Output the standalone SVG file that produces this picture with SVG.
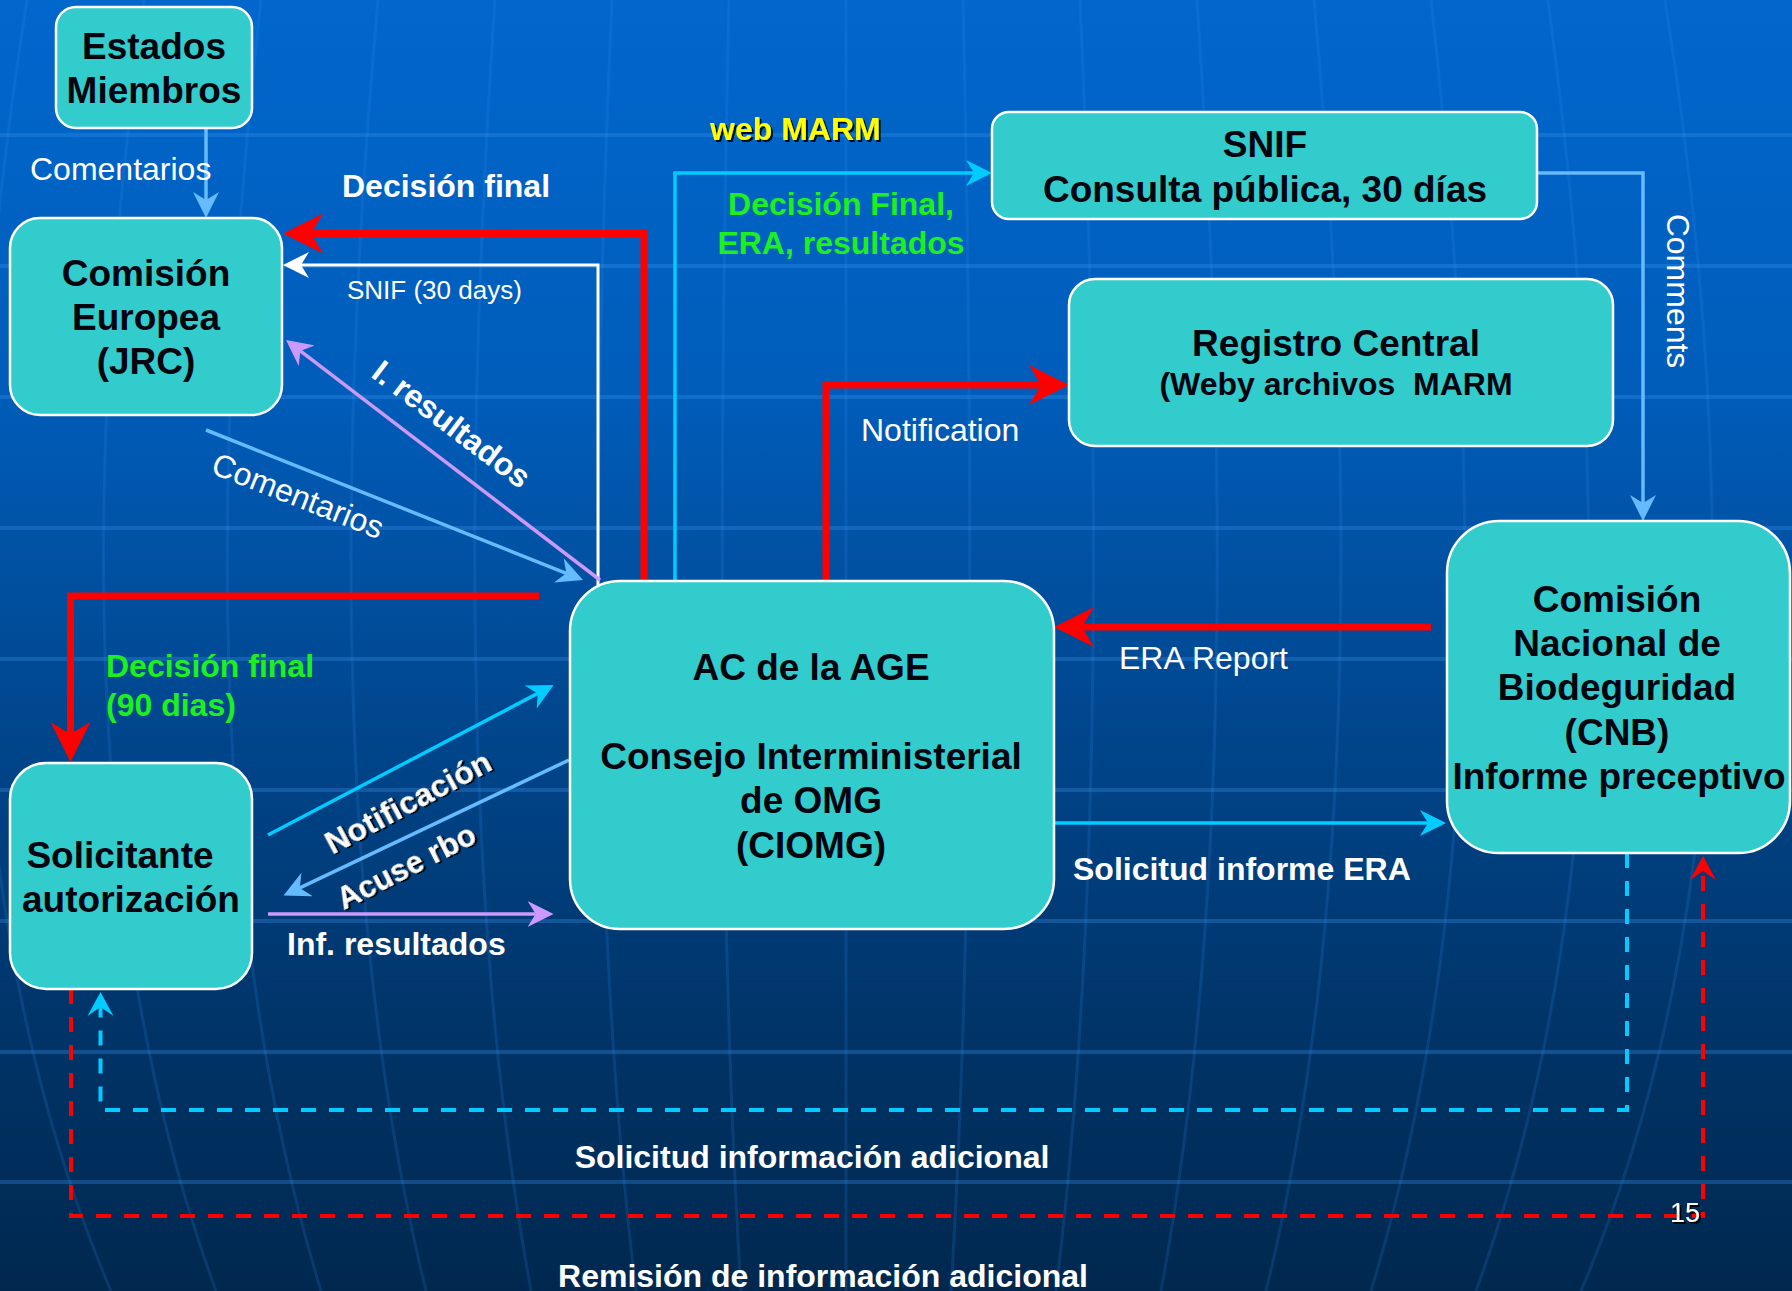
<svg xmlns="http://www.w3.org/2000/svg" width="1792" height="1291" viewBox="0 0 1792 1291">
<style>
.box{fill:#33CCCC;stroke:#FFFFFF;stroke-width:2.5}
.bt{font-family:"Liberation Sans",Arial,sans-serif;font-weight:bold;font-size:37px;fill:#050510;text-anchor:middle}
.lb{font-family:"Liberation Sans",Arial,sans-serif;font-size:32px;fill:#FFFFFF}
.bold{font-weight:bold}
.green{fill:#1EF01E}
.c{fill:none;stroke-linejoin:miter}
.red{stroke:#FF0000;stroke-width:7}
.wht{stroke:#FFFFFF;stroke-width:3}
.lbl{stroke:#66BBFF;stroke-width:3.5}
.cy{stroke:#00CCFF;stroke-width:3.5}
.pu{stroke:#CC99FF;stroke-width:3.5}
.dash{stroke-width:4;stroke-dasharray:15 13}
.grid{fill:none;stroke:#3A95F0;stroke-width:4;opacity:0.3}
.mer{fill:none;stroke:#3A95F0;stroke-width:3;opacity:0.16}
</style>
<defs>
<linearGradient id="bg" x1="0" y1="0" x2="0" y2="1">
<stop offset="0" stop-color="#0067CD"/>
<stop offset="0.3" stop-color="#005DBA"/>
<stop offset="0.55" stop-color="#00478F"/>
<stop offset="0.8" stop-color="#003468"/>
<stop offset="1" stop-color="#00284F"/>
</linearGradient>
<filter id="sh" x="-10%" y="-20%" width="130%" height="150%">
<feDropShadow dx="2" dy="2" stdDeviation="0.6" flood-color="#000" flood-opacity="0.9"/>
</filter>
<marker id="aRed" markerUnits="userSpaceOnUse" viewBox="0 0 40 40" markerWidth="40" markerHeight="40" refX="12" refY="20" orient="auto"><path d="M0,0 L40,20 L0,40 L12,20 Z" fill="#FF0000"/></marker>
<marker id="aW" markerUnits="userSpaceOnUse" viewBox="0 0 26 26" markerWidth="26" markerHeight="26" refX="8" refY="13" orient="auto"><path d="M0,0 L26,13 L0,26 L8,13 Z" fill="#FFFFFF"/></marker>
<marker id="aLB" markerUnits="userSpaceOnUse" viewBox="0 0 26 26" markerWidth="26" markerHeight="26" refX="8" refY="13" orient="auto"><path d="M0,0 L26,13 L0,26 L8,13 Z" fill="#66BBFF"/></marker>
<marker id="aCy" markerUnits="userSpaceOnUse" viewBox="0 0 26 26" markerWidth="26" markerHeight="26" refX="8" refY="13" orient="auto"><path d="M0,0 L26,13 L0,26 L8,13 Z" fill="#00CCFF"/></marker>
<marker id="aPu" markerUnits="userSpaceOnUse" viewBox="0 0 26 26" markerWidth="26" markerHeight="26" refX="8" refY="13" orient="auto"><path d="M0,0 L26,13 L0,26 L8,13 Z" fill="#CC99FF"/></marker>
<marker id="aCyS" markerUnits="userSpaceOnUse" viewBox="0 0 24 26" markerWidth="24" markerHeight="26" refX="9" refY="13" orient="auto"><path d="M0,0 L24,13 L0,26 L9,13 Z" fill="#00CCFF"/></marker>
<marker id="aRedS" markerUnits="userSpaceOnUse" viewBox="0 0 24 26" markerWidth="24" markerHeight="26" refX="9" refY="13" orient="auto"><path d="M0,0 L24,13 L0,26 L9,13 Z" fill="#FF0000"/></marker>
</defs>

<g id="background">
<rect x="0" y="0" width="1792" height="1291" fill="url(#bg)"/>
<path class="grid" d="M0,135H1792M0,266H1792M0,397H1792M0,528H1792M0,659H1792M0,790H1792M0,921H1792M0,1052H1792M0,1182H1792"/>
<path class="mer" d="M27,0 Q-99,800 111,1291 M144,0 Q36,800 216,1291 M261,0 Q171,800 321,1291 M378,0 Q306,800 426,1291 M495,0 Q441,800 531,1291 M612,0 Q576,800 636,1291 M729,0 Q711,800 741,1291 M846,0 Q846,800 846,1291 M963,0 Q981,800 951,1291 M1080,0 Q1116,800 1056,1291 M1197,0 Q1251,800 1161,1291 M1314,0 Q1386,800 1266,1291 M1431,0 Q1521,800 1371,1291 M1548,0 Q1656,800 1476,1291 M1665,0 Q1791,800 1581,1291"/>
</g>

<g id="connectors">
<path class="c lbl" d="M206,128 V200" marker-end="url(#aLB)"/>
<path class="c red" d="M644,581 V233.5 H311" marker-end="url(#aRed)"/>
<path class="c wht" d="M598,586 V265 H301" marker-end="url(#aW)"/>
<path class="c pu" d="M600,580 L300.3,350.9" marker-end="url(#aPu)"/>
<path class="c lbl" d="M206,430 L566.3,573.3" marker-end="url(#aLB)"/>
<path class="c red" d="M539,596 H70.5 V734" marker-end="url(#aRed)"/>
<path class="c cy" d="M675,581 V173 H974" marker-end="url(#aCy)"/>
<path class="c red" d="M826,581 V385 H1041" marker-end="url(#aRed)"/>
<path class="c lbl" d="M1537,173 H1643 V503" marker-end="url(#aLB)"/>
<path class="c red" d="M1431,627 H1082" marker-end="url(#aRed)"/>
<path class="c cy" d="M1054,823 H1428" marker-end="url(#aCy)"/>
<path class="c cy" d="M268,835 L537.7,693.4" marker-end="url(#aCy)"/>
<path class="c lbl" d="M569,760 L299.8,887.9" marker-end="url(#aLB)"/>
<path class="c pu" d="M268,914 H535.6" marker-end="url(#aPu)"/>
<path class="c cy dash" d="M1627,853 V1110 H100.5 V1007" marker-end="url(#aCyS)"/>
<path class="c dash" stroke="#FF0000" d="M71,989 V1216 H1703 V871" marker-end="url(#aRedS)"/>
</g>

<g id="labels">
<text class="lb" x="30" y="180">Comentarios</text>
<text class="lb bold" x="342" y="197">Decisión final</text>
<text class="lb" x="347" y="299" style="font-size:26px">SNIF (30 days)</text>
<text class="lb bold" text-anchor="middle" transform="translate(445,433) rotate(37)">I. resultados</text>
<text class="lb" text-anchor="middle" transform="translate(294,506) rotate(21.5)">Comentarios</text>
<text class="lb bold" x="710" y="140" style="fill:#FFFF00" filter="url(#sh)">web MARM</text>
<text class="lb bold green" x="841" y="215" text-anchor="middle">Decisión Final,</text>
<text class="lb bold green" x="841" y="254" text-anchor="middle">ERA, resultados</text>
<text class="lb" x="861" y="441">Notification</text>
<text class="lb" text-anchor="middle" transform="translate(1667,291) rotate(90)">Comments</text>
<text class="lb" x="1119" y="669">ERA Report</text>
<text class="lb bold" x="1073" y="880">Solicitud informe ERA</text>
<text class="lb bold green" x="106" y="677">Decisión final</text>
<text class="lb bold green" x="106" y="716">(90 dias)</text>
<text class="lb bold" text-anchor="middle" style="font-size:32px" filter="url(#sh)" transform="translate(413,812) rotate(-28)">Notificación</text>
<text class="lb bold" text-anchor="middle" style="font-size:31px" filter="url(#sh)" transform="translate(411,876) rotate(-27)">Acuse rbo</text>
<text class="lb bold" x="287" y="955">Inf. resultados</text>
<text class="lb bold" x="812" y="1168" text-anchor="middle">Solicitud información adicional</text>
<text class="lb bold" x="823" y="1287" text-anchor="middle">Remisión de información adicional</text>
<text class="lb" x="1685" y="1222" text-anchor="middle" style="font-size:27px" filter="url(#sh)">15</text>
</g>

<g id="estados">
<rect class="box" x="56" y="7" width="196" height="121" rx="20"/>
<text class="bt" x="154" y="59">Estados</text>
<text class="bt" x="154" y="103">Miembros</text>
</g>
<g id="comision-europea">
<rect class="box" x="10" y="218" width="272" height="197" rx="30"/>
<text class="bt" x="146" y="286">Comisión</text>
<text class="bt" x="146" y="330">Europea</text>
<text class="bt" x="146" y="374">(JRC)</text>
</g>
<g id="snif">
<rect class="box" x="992" y="112" width="545" height="107" rx="17"/>
<text class="bt" x="1265" y="157">SNIF</text>
<text class="bt" x="1265" y="202">Consulta pública, 30 días</text>
</g>
<g id="registro-central">
<rect class="box" x="1069" y="279" width="544" height="167" rx="26"/>
<text class="bt" x="1336" y="356">Registro Central</text>
<text class="bt" x="1336" y="395" style="font-size:32px;white-space:pre" xml:space="preserve">(Weby archivos  MARM</text>
</g>
<g id="ac-age">
<rect class="box" x="570" y="581" width="484" height="348" rx="50"/>
<text class="bt" x="811" y="680">AC de la AGE</text>
<text class="bt" x="811" y="769">Consejo Interministerial</text>
<text class="bt" x="811" y="813">de OMG</text>
<text class="bt" x="811" y="858">(CIOMG)</text>
</g>
<g id="cnb">
<rect class="box" x="1447" y="521" width="343" height="332" rx="52"/>
<text class="bt" x="1617" y="612">Comisión</text>
<text class="bt" x="1617" y="656">Nacional de</text>
<text class="bt" x="1617" y="700">Biodeguridad</text>
<text class="bt" x="1617" y="745">(CNB)</text>
<text class="bt" x="1619" y="789">Informe preceptivo</text>
</g>
<g id="solicitante">
<rect class="box" x="10" y="763" width="242" height="226" rx="36"/>
<text class="bt" x="120" y="868">Solicitante</text>
<text class="bt" x="131" y="912">autorización</text>
</g>
</svg>
